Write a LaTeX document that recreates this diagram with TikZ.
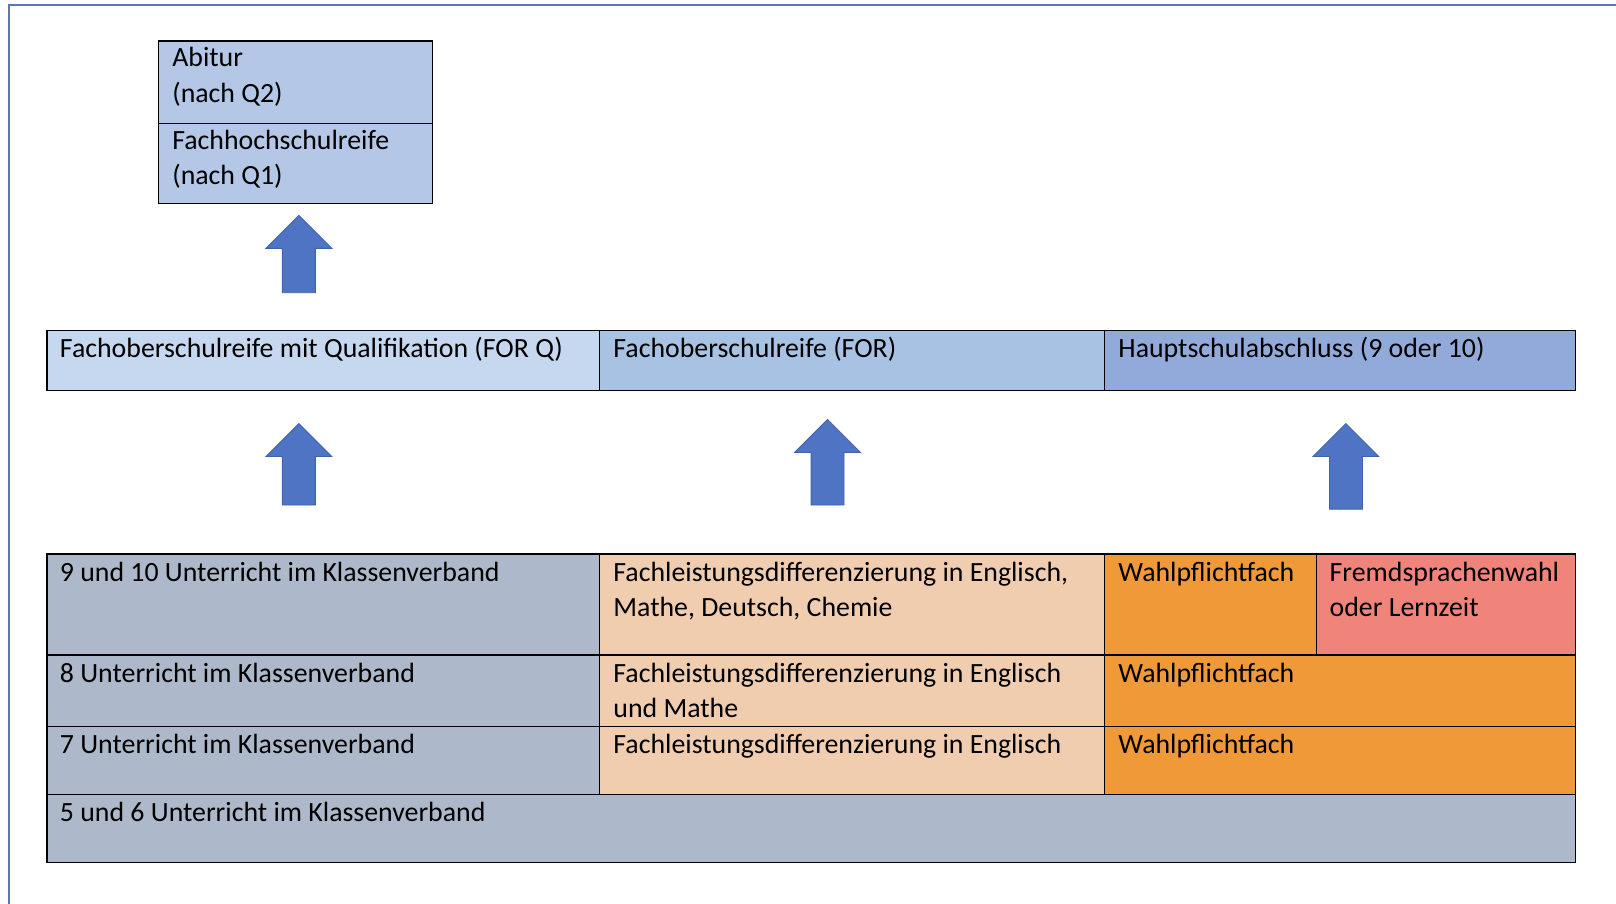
\documentclass[tikz,border=0pt]{standalone}
\usepackage{fontspec}
\setmainfont{Carlito}
\definecolor{frameblue}{HTML}{5B76B5}
\definecolor{abiblue}{HTML}{B4C7E7}
\definecolor{forq}{HTML}{C6D8EF}
\definecolor{forc}{HTML}{A7C2E2}
\definecolor{hsa}{HTML}{91AADA}
\definecolor{grayc}{HTML}{ADB9CA}
\definecolor{peach}{HTML}{F0CDAF}
\definecolor{orangec}{HTML}{F09938}
\definecolor{redc}{HTML}{F0847B}
\definecolor{arrowfill}{HTML}{4F74C4}
\definecolor{arrowdraw}{HTML}{3E62AE}
\tikzset{
  cell/.style={draw=black, line width=1.3pt, anchor=north west, inner sep=0pt},
  txt/.style={anchor=base west, align=left, inner sep=0pt, font=\fontsize{27pt}{34pt}\selectfont},
}
\newcommand{\uparr}[4]{% name, center x, tip y, bottom y
  \fill[arrowfill, draw=arrowdraw, line width=0.8pt]
    (#2,-#3) -- (#2+32,-#3-32) -- (#2+16,-#3-32) -- (#2+16,-#4) -- (#2-16,-#4) -- (#2-16,-#3-32) -- (#2-32,-#3-32) -- cycle;
  \coordinate (#1) at (#2,-#3);
}
\begin{document}
\begin{tikzpicture}[x=1pt,y=1pt]
\useasboundingbox (0,0) rectangle (1568,-877);
\fill[white] (0,0) rectangle (1568,-877);
% frame
\draw[frameblue, line width=2pt] (8.5,-877) -- (8.5,-4.5) -- (1568,-4.5);
% top box
\node[cell, fill=abiblue, minimum width=266pt, minimum height=80pt] (abi) at (153,-39) {};
\node[cell, fill=abiblue, minimum width=266pt, minimum height=78pt] (fhr) at (153,-119) {};
\node[txt] at (167,-99) {Abitur\\(nach Q2)};
\node[txt] at (167,-179) {Fachhochschulreife\\(nach Q1)};
% arrow to top
\uparr{a0}{290}{209}{284}
% middle row
\node[cell, fill=forq, minimum width=536pt, minimum height=58pt] (forq) at (45,-320) {};
\node[cell, fill=forc, minimum width=490pt, minimum height=58pt] (for) at (581,-320) {};
\node[cell, fill=hsa, minimum width=457pt, minimum height=58pt] (hsa) at (1071,-320) {};
\node[txt] at (58,-347) {Fachoberschulreife mit Qualifikation (FOR Q)};
\node[txt] at (595,-347) {Fachoberschulreife (FOR)};
\node[txt] at (1085,-347) {Hauptschulabschluss (9 oder 10)};
% arrows
\uparr{a1}{290}{411}{490}
\uparr{a2}{803}{407}{490}
\uparr{a3}{1306}{411}{494}
% bottom table
\node[cell, fill=grayc, minimum width=536pt, minimum height=98pt] (g910) at (45,-537) {};
\node[cell, fill=peach, minimum width=490pt, minimum height=98pt] (p910) at (581,-537) {};
\node[cell, fill=orangec, minimum width=206pt, minimum height=98pt] (o910) at (1071,-537) {};
\node[cell, fill=redc, minimum width=251pt, minimum height=98pt] (r910) at (1277,-537) {};
\node[cell, fill=grayc, minimum width=536pt, minimum height=69pt] (g8) at (45,-635) {};
\node[cell, fill=peach, minimum width=490pt, minimum height=69pt] (p8) at (581,-635) {};
\node[cell, fill=orangec, minimum width=457pt, minimum height=69pt] (o8) at (1071,-635) {};
\node[cell, fill=grayc, minimum width=536pt, minimum height=66pt] (g7) at (45,-704) {};
\node[cell, fill=peach, minimum width=490pt, minimum height=66pt] (p7) at (581,-704) {};
\node[cell, fill=orangec, minimum width=457pt, minimum height=66pt] (o7) at (1071,-704) {};
\node[cell, fill=grayc, minimum width=1483pt, minimum height=66pt] (g56) at (45,-770) {};
\node[txt] at (58,-564) {9 und 10 Unterricht im Klassenverband};
\node[txt] at (595,-598) {Fachleistungsdifferenzierung in Englisch,\\Mathe, Deutsch, Chemie};
\node[txt] at (1085,-564) {Wahlpflichtfach};
\node[txt] at (1290,-598) {Fremdsprachenwahl\\oder Lernzeit};
\node[txt] at (58,-662) {8 Unterricht im Klassenverband};
\node[txt] at (595,-696) {Fachleistungsdifferenzierung in Englisch\\und Mathe};
\node[txt] at (1085,-662) {Wahlpflichtfach};
\node[txt] at (58,-731) {7 Unterricht im Klassenverband};
\node[txt] at (595,-731) {Fachleistungsdifferenzierung in Englisch};
\node[txt] at (1085,-731) {Wahlpflichtfach};
\node[txt] at (58,-797) {5 und 6 Unterricht im Klassenverband};
\end{tikzpicture}
\end{document}
